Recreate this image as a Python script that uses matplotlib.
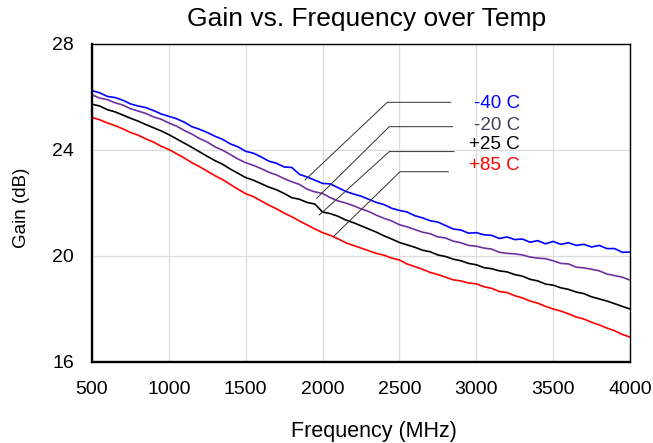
import numpy as np
import matplotlib
matplotlib.use("Agg")
import matplotlib.pyplot as plt

plt.rcParams['font.family'] = ['Liberation Sans', 'DejaVu Sans']

# frequency points (MHz), read every 50 MHz
freq = list(range(500, 4001, 50))

gain_m40 = [26.24, 26.16, 26.02, 25.98, 25.88, 25.74, 25.66, 25.60, 25.49, 25.36,
            25.27, 25.18, 25.05, 24.88, 24.78, 24.66, 24.52, 24.40, 24.23, 24.12,
            23.95, 23.88, 23.74, 23.58, 23.50, 23.36, 23.34, 23.08, 22.98, 22.86,
            22.74, 22.72, 22.58, 22.44, 22.34, 22.26, 22.14, 22.02, 21.94, 21.80,
            21.72, 21.66, 21.52, 21.44, 21.33, 21.28, 21.15, 21.02, 20.98, 20.86,
            20.88, 20.80, 20.78, 20.66, 20.72, 20.62, 20.64, 20.52, 20.58, 20.46,
            20.55, 20.44, 20.50, 20.40, 20.44, 20.34, 20.40, 20.28, 20.28, 20.14,
            20.15]
gain_m20 = [26.08, 25.96, 25.90, 25.78, 25.70, 25.56, 25.47, 25.38, 25.25, 25.16,
            25.02, 24.90, 24.74, 24.60, 24.43, 24.30, 24.12, 23.99, 23.83, 23.66,
            23.52, 23.42, 23.30, 23.16, 23.06, 22.92, 22.80, 22.70, 22.52, 22.42,
            22.36, 22.20, 22.08, 22.00, 21.90, 21.78, 21.68, 21.54, 21.42, 21.32,
            21.18, 21.10, 21.00, 20.90, 20.84, 20.72, 20.68, 20.56, 20.50, 20.40,
            20.37, 20.30, 20.26, 20.14, 20.10, 20.08, 20.04, 19.96, 19.92, 19.90,
            19.82, 19.72, 19.70, 19.58, 19.55, 19.50, 19.44, 19.32, 19.26, 19.20,
            19.09]
gain_p25 = [25.73, 25.66, 25.52, 25.44, 25.32, 25.20, 25.09, 24.96, 24.84, 24.72,
            24.58, 24.42, 24.26, 24.10, 23.93, 23.76, 23.60, 23.46, 23.28, 23.12,
            22.96, 22.86, 22.73, 22.60, 22.50, 22.36, 22.20, 22.14, 22.02, 21.96,
            21.66, 21.60, 21.50, 21.36, 21.26, 21.14, 21.02, 20.90, 20.76, 20.64,
            20.51, 20.42, 20.33, 20.22, 20.16, 20.04, 19.98, 19.88, 19.82, 19.72,
            19.67, 19.56, 19.52, 19.44, 19.40, 19.30, 19.24, 19.12, 19.06, 18.94,
            18.90, 18.80, 18.74, 18.64, 18.58, 18.46, 18.38, 18.30, 18.20, 18.10,
            18.00]
gain_p85 = [25.23, 25.14, 25.02, 24.92, 24.80, 24.66, 24.56, 24.42, 24.30, 24.14,
            24.02, 23.86, 23.70, 23.52, 23.37, 23.20, 23.03, 22.88, 22.70, 22.52,
            22.35, 22.24, 22.08, 21.92, 21.78, 21.62, 21.48, 21.32, 21.17, 21.02,
            20.88, 20.78, 20.65, 20.50, 20.40, 20.30, 20.20, 20.10, 20.03, 19.92,
            19.85, 19.70, 19.60, 19.50, 19.38, 19.30, 19.20, 19.10, 19.06, 18.98,
            18.95, 18.84, 18.78, 18.66, 18.62, 18.50, 18.42, 18.30, 18.22, 18.10,
            18.00, 17.92, 17.82, 17.70, 17.62, 17.50, 17.40, 17.28, 17.18, 17.04,
            16.94]

labels = ['-40 C', '-20 C', '+25 C', '+85 C']
line_colors = ['#0000ff', '#7030a0', '#000000', '#ff0000']
text_colors = ['#0000ff', '#45405a', '#000000', '#ff0000']

# leader lines: tip on curve, elbow, end of horizontal part (data units)
tips = [(1886, 22.87), (1962, 22.18), (1979, 21.55), (2070, 20.73)]
elbows = [(2421, 25.80), (2434, 24.88), (2434, 23.94), (2504, 23.18)]
ends = [2834, 2846, 2855, 2818]
label_y = [25.74, 24.94, 24.19, 23.43]

fig = plt.figure(figsize=(6.53, 4.43), dpi=100)
ax = fig.add_axes([92/653, 1 - 362/443, 538/653, 318/443])

for g, c in zip([gain_m40, gain_m20, gain_p25, gain_p85], line_colors):
    ax.plot(freq, g, color=c, lw=1.2)

for (tx, ty), (ex, ey), hx, lab, ly, tc in zip(tips, elbows, ends, labels, label_y, text_colors):
    ax.plot([tx, ex, hx], [ty, ey, ey], color='#303030', lw=0.7)
    ax.text(3284, ly, lab, color=tc, fontsize=13.5, ha='right', va='center')

ax.set_xlim(500, 4000)
ax.set_ylim(16, 28)
ax.set_xticks(np.arange(500, 4001, 500))
ax.set_yticks([16, 20, 24, 28])
ax.grid(True, color='#dcdcdc', lw=0.9)
ax.set_axisbelow(True)
ax.tick_params(length=0, labelsize=14)
ax.tick_params(axis='x', pad=14)
ax.tick_params(axis='y', pad=13)
for s in ['left', 'bottom']:
    ax.spines[s].set_linewidth(1.7)
for s in ['top', 'right']:
    ax.spines[s].set_linewidth(1.0)

fig.text(366.5/653, 1 - 19/443, 'Gain vs. Frequency over Temp', fontsize=19,
         ha='center', va='center')
fig.text(374/653, 1 - 432/443, 'Frequency (MHz)', fontsize=15.5, ha='center', va='center')
fig.text(22/653, 1 - 207.5/443, 'Gain (dB)', fontsize=13.5, ha='center', va='center',
         rotation=90)

fig.savefig('out.png', dpi=100)
